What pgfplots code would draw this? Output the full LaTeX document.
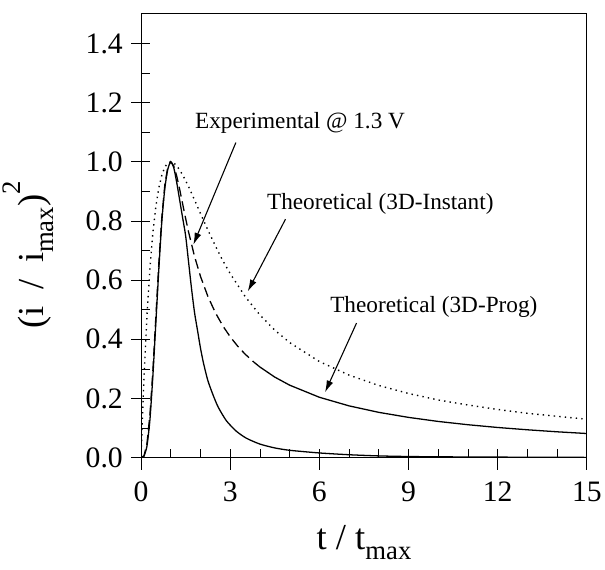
\documentclass[border=0pt]{standalone}
\usepackage{pgfplots}
\pgfplotsset{compat=1.18}
\usepackage{fontspec}
\setmainfont{Liberation Serif}
\usetikzlibrary{arrows.meta}
\newcommand{\sub}[1]{\raisebox{-0.28em}{\fontsize{27bp}{30bp}\selectfont #1}}
\newcommand{\sups}[1]{\raisebox{0.62em}{\fontsize{27bp}{30bp}\selectfont #1}}
\begin{document}
\begin{tikzpicture}
\path (-137bp,-113bp) rectangle (468bp,463bp);
\begin{axis}[
  width=451bp, height=449bp, scale only axis,
  xmin=0, xmax=15, ymin=0, ymax=1.5,
  xtick={0,3,6,9,12,15},
  ytick={0,0.2,0.4,0.6,0.8,1.0,1.2,1.4},
  minor x tick num=2, minor y tick num=1,
  xtick pos=bottom, ytick pos=left,
  tick align=inside, major tick length=9bp, minor tick length=9bp,
  extra x ticks={0,3,6,9,12,15}, extra x tick labels={},
  extra x tick style={tick align=outside, major tick length=12bp},
  extra y ticks={0,0.2,0.4,0.6,0.8,1.0,1.2,1.4}, extra y tick labels={},
  extra y tick style={tick align=outside, major tick length=10bp},
  /pgf/number format/assume math mode=true,
  yticklabel style={/pgf/number format/fixed, /pgf/number format/fixed zerofill, /pgf/number format/precision=1, xshift=-15bp},
  xticklabel style={yshift=-21bp},
  tick label style={font=\fontsize{30bp}{34bp}\selectfont},
  label style={font=\fontsize{37bp}{40bp}\selectfont},
  xlabel={t / t\sub{max}},
  ylabel={(i\hspace{0.45em}/\hspace{0.45em}i\sub{max})\sups{2}},
  xlabel style={at={(axis description cs:0.5,-0.207)}, anchor=base},
  ylabel style={at={(axis description cs:-0.252,0.457)}, anchor=center},
  axis line style={line width=1bp},
  every tick/.style={line width=0.8bp, black},
]
% Experimental (solid)
\addplot[black, line width=1.3bp, smooth, tension=0.4] coordinates {
(0,0) (0.05,0.0) (0.1,0.005) (0.2,0.04) (0.3,0.13) (0.4,0.28) (0.5,0.46) (0.6,0.64) (0.7,0.8) (0.8,0.91) (0.9,0.975) (1.0,1.0) (1.1,0.98) (1.2,0.93) (1.3,0.87) (1.4,0.81) (1.5,0.75) (1.6,0.66) (1.7,0.57) (1.8,0.49) (1.9,0.43) (2.0,0.37) (2.1,0.32) (2.25,0.26) (2.43,0.21) (2.6,0.17) (2.87,0.125) (3.2,0.09) (3.54,0.066) (4.0,0.046) (4.5,0.033) (5.0,0.025) (6.0,0.016) (7.0,0.01) (8.0,0.006) (9,0.004) (10,0.003) (12,0.002) (15,0.001)
};
% Theoretical instantaneous (dotted)
\addplot[black, line width=1.4bp, dash pattern=on 1.4bp off 4.2bp] coordinates {
(0,0) (0.02,0.060) (0.05,0.145) (0.1,0.272) (0.2,0.482) (0.3,0.642) (0.4,0.762) (0.5,0.850) (0.6,0.913) (0.7,0.955) (0.8,0.982) (0.9,0.996) (1.0,1.0) (1.1,0.996) (1.2,0.987) (1.4,0.956) (1.6,0.916) (1.8,0.871) (2.0,0.825) (2.25,0.769) (2.5,0.716) (2.75,0.666) (3,0.622) (3.5,0.545) (4,0.482) (4.5,0.431) (5,0.389) (6,0.325) (7,0.279) (8,0.244) (9,0.217) (10,0.195) (11,0.178) (12,0.163) (13,0.150) (14,0.140) (15,0.130)
};
% Theoretical progressive (dashed near peak)
\addplot[black, line width=1.3bp, dash pattern=on 10bp off 5bp] coordinates {
(0,0) (0.1,0.0065) (0.2,0.0488) (0.3,0.1469) (0.4,0.2981) (0.5,0.4797) (0.6,0.6607) (0.7,0.8137) (0.8,0.9221) (0.9,0.9822) (1.0,1.0) (1.1,0.9861) (1.2,0.9518) (1.3,0.9066) (1.4,0.8574) (1.5,0.8085) (1.6,0.762) (1.8,0.680) (2.0,0.6127) (2.25,0.5446) (2.5,0.4902) (2.75,0.4456) (3.0,0.4085) (3.25,0.3770) (3.5,0.3501) (3.8,0.3225)
};
% Theoretical progressive (solid tail)
\addplot[black, line width=1.3bp] coordinates {
(3.8,0.3225) (4,0.3064) (4.5,0.2723) (5,0.2451) (6,0.2042) (7,0.1751) (8,0.1532) (9,0.1362) (10,0.1225) (11,0.1114) (12,0.1021) (13,0.0943) (14,0.0875) (15,0.0817)
};
% annotations
\node[font=\fontsize{23.5bp}{27bp}\selectfont] at (axis cs:5.35,1.13) {Experimental @ 1.3 V};
\draw[line width=1.1bp, -{Latex[length=12bp,width=7bp]}] (axis cs:3.19,1.065) -- (axis cs:1.76,0.72);
\node[font=\fontsize{23.5bp}{27bp}\selectfont] at (axis cs:8.05,0.856) {Theoretical (3D-Instant)};
\draw[line width=1.1bp, -{Latex[length=12bp,width=7bp]}] (axis cs:4.86,0.806) -- (axis cs:3.59,0.562);
\node[font=\fontsize{23.5bp}{27bp}\selectfont] at (axis cs:9.85,0.51) {Theoretical (3D-Prog)};
\draw[line width=1.1bp, -{Latex[length=12bp,width=7bp]}] (axis cs:7.25,0.455) -- (axis cs:6.19,0.221);
\end{axis}
\end{tikzpicture}
\end{document}
